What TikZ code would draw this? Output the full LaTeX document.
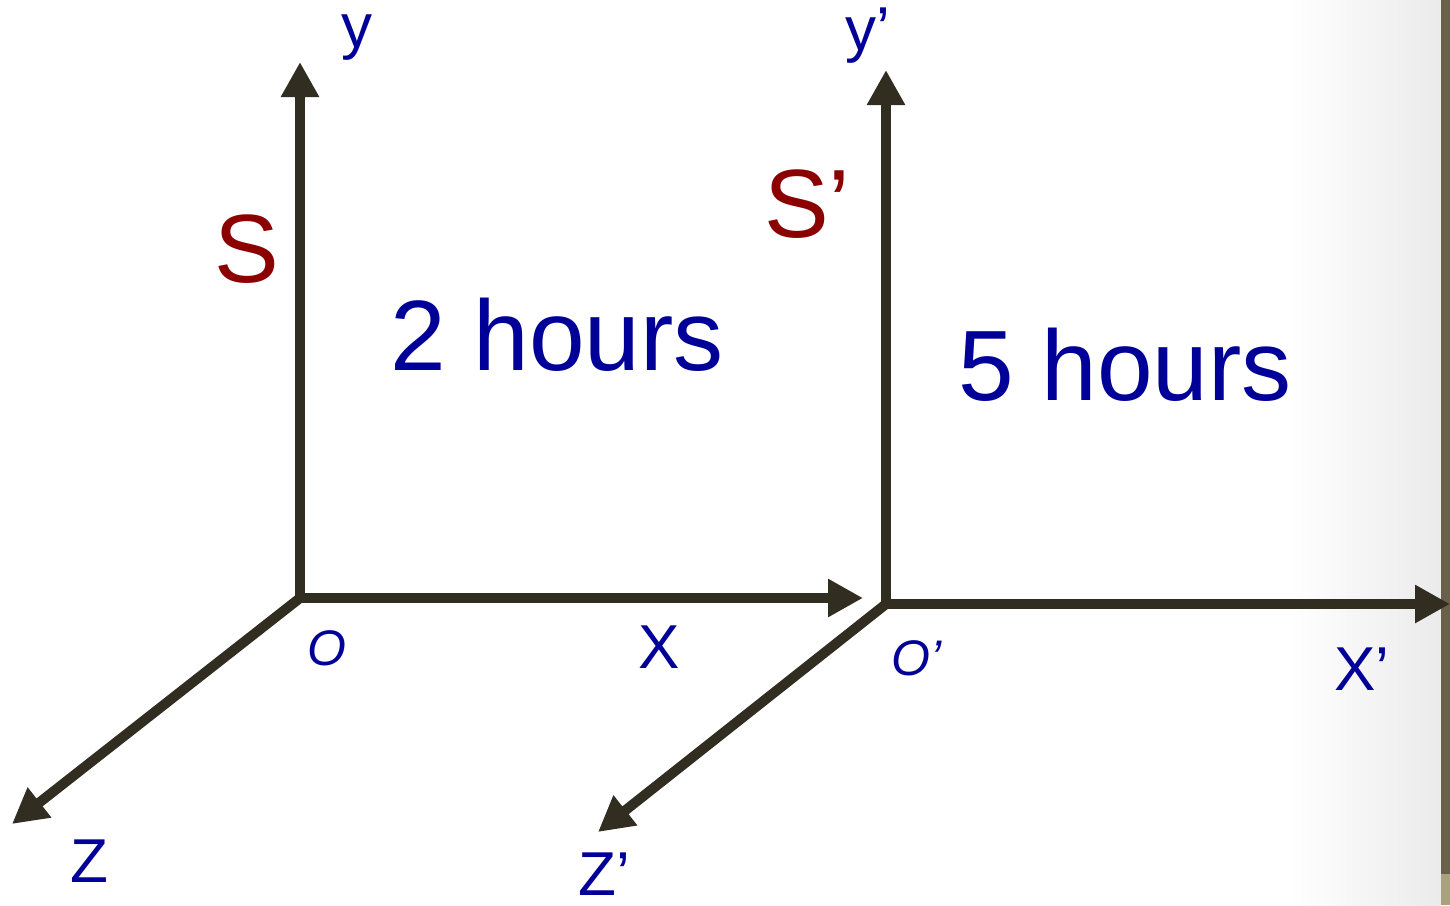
\documentclass[tikz,border=0pt]{standalone}
\usepackage{fontspec}
\setmainfont{Liberation Sans}
\usetikzlibrary{arrows.meta}
\definecolor{axisc}{RGB}{50,45,33}
\definecolor{lblue}{RGB}{0,0,153}
\definecolor{lred}{RGB}{139,0,0}
\definecolor{barc}{RGB}{104,96,74}
\definecolor{barl}{RGB}{168,162,126}
\begin{document}
\begin{tikzpicture}[x=1pt,y=-1pt,
  axisline/.style={draw=axisc,line width=10pt,-{Triangle[length=35pt,width=36pt]}},
  lbl/.style={text=lblue,inner sep=0pt,anchor=base west,font=\fontsize{62}{62}\selectfont},
  small/.style={text=lblue,inner sep=0pt,anchor=base west,font=\fontsize{50}{50}\selectfont\itshape},
  frame/.style={text=lred,inner sep=0pt,anchor=base west,font=\fontsize{97}{97}\selectfont},
  big/.style={text=lblue,inner sep=0pt,anchor=base west,font=\fontsize{100}{100}\selectfont}]
\useasboundingbox (0,0) rectangle (1450,905);
\fill[white] (0,0) rectangle (1450,905);
\shade[left color=white,right color=black!8] (1290,0) rectangle (1441,905);
\fill[barc] (1441,0) rectangle (1450,874);
\fill[barl] (1441,874) rectangle (1450,905);
% frame S
\coordinate (O) at (300,598);
\coordinate (Ytip) at (300,62);
\coordinate (Xtip) at (863,598);
\coordinate (Ztip) at (12,824);
\draw[axisline] (O) -- (Ytip);
\draw[axisline] (O) -- (Xtip);
\draw[axisline] (O) -- (Ztip);
% frame S'
\coordinate (O2) at (886,604);
\coordinate (Y2tip) at (886,70);
\coordinate (X2tip) at (1450,604);
\coordinate (Z2tip) at (598,832);
\draw[axisline] (O2) -- (Y2tip);
\draw[axisline] (O2) -- (X2tip);
\draw[axisline] (O2) -- (Z2tip);
% labels
\node[lbl] (ly) at (341,47) {y};
\node[frame] (lS) at (214,282) {S};
\node[big] (t1) at (390,370) {2 hours};
\node[small] (lO) at (307,665) {O};
\node[lbl] (lX) at (638,668) {X};
\node[lbl] (lZ) at (70,882) {Z};
\node[lbl] (ly2) at (845,50) {y’};
\node[frame] (lS2) at (764,237) {S’};
\node[big] (t2) at (958,400) {5 hours};
\node[small] (lO2) at (891,675) {O’};
\node[lbl] (lX2) at (1334,690) {X’};
\node[lbl] (lZ2) at (578,895) {Z’};
\end{tikzpicture}
\end{document}
